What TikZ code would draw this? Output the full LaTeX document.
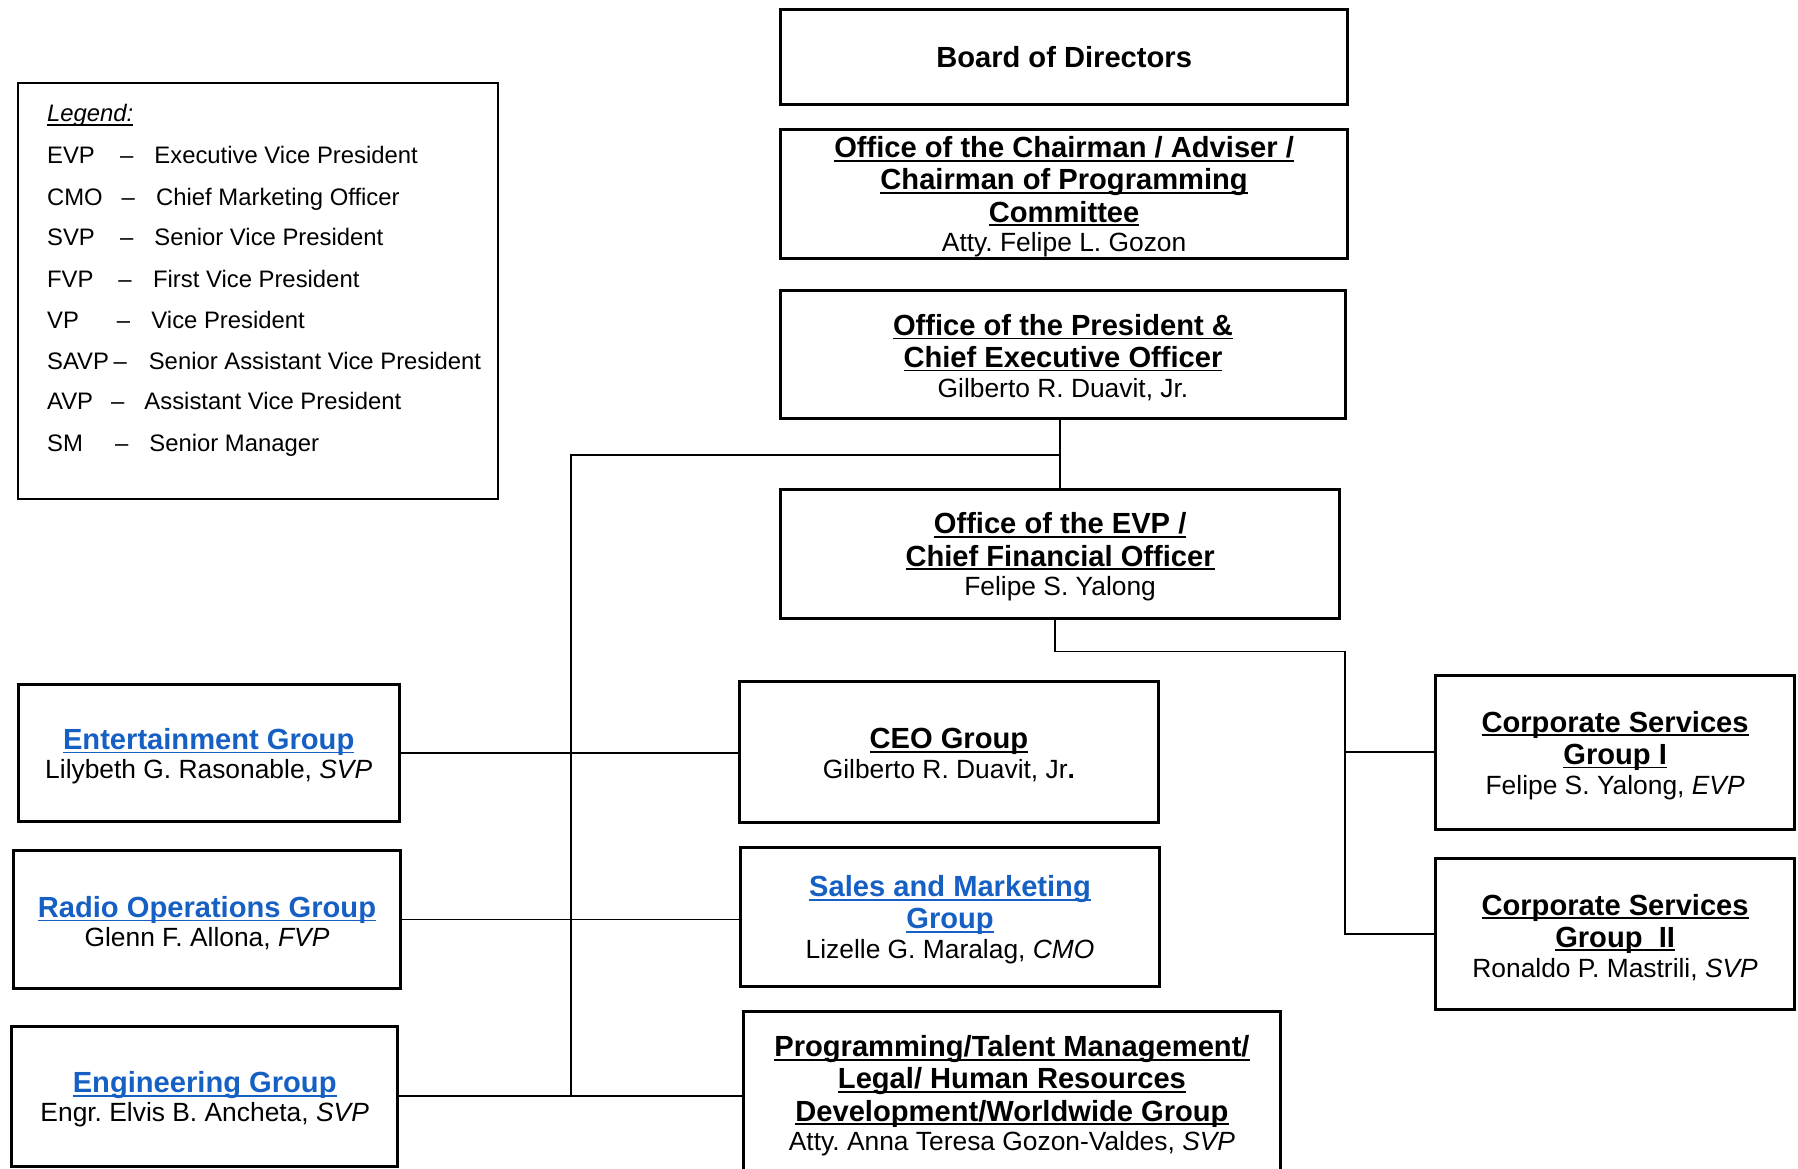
\documentclass[tikz,border=0pt]{standalone}
\usepackage{fontspec}
\setmainfont{Liberation Sans}
\frenchspacing
\definecolor{linkblue}{HTML}{1660C4}
\newsavebox\ulbox
\newcommand\ulx[1]{\sbox\ulbox{#1}\rlap{\rule[-1.7pt]{\wd\ulbox}{0.75pt}}\usebox\ulbox}
\newcommand\tfont{\fontsize{12.7}{14}\selectfont\bfseries\frenchspacing}
\newcommand\tfontb{\fontsize{12.7}{13}\selectfont\bfseries\frenchspacing}
\newcommand\nfont{\fontsize{11.5}{14}\selectfont\mdseries}
\newcommand\st{\rule{0pt}{12pt}}
\begin{document}
\begin{tikzpicture}[x=0.5pt,y=-0.5pt,
  box/.style={draw, line width=1.3pt, align=center, inner sep=0pt, font=\tfont},
  boxb/.style={box, font=\tfontb},
  conn/.style={line width=0.7pt},
  lg/.style={inner sep=0pt, anchor=base west, font=\fontsize{10.4}{12}\selectfont},
  lgd/.style={inner sep=0pt, anchor=base, font=\fontsize{10.4}{12}\selectfont}]
\useasboundingbox (0,0) rectangle (1568,1019);

% legend
\node[draw, line width=0.9pt, minimum width=209pt, minimum height=181.5pt, inner sep=0pt] (legend) at (225,253.5) {};
\node[lg] (lgtitle) at (40.7,106.1) {\itshape\ulx{Legend:}};
\foreach \a/\dx/\tx/\y/\d [count=\i] in {
  EVP/110.5/134.3/143.0/Executive Vice President,
  CMO/111.9/135.8/178.8/Chief Marketing Officer,
  SVP/110.5/134.3/214.5/Senior Vice President,
  FVP/109/133.1/250.6/First Vice President,
  VP/107.8/131.7/286.3/Vice President,
  SAVP/104.9/129.4/321.8/Senior Assistant Vice President,
  AVP/102.8/125.6/357.5/Assistant Vice President,
  SM/106.1/129.9/393.3/Senior Manager}{
  \node[lg] (la\i) at (40.7,\y) {\a};
  \node[lgd] (ld\i) at (\dx,\y) {–};
  \node[lg] (lt\i) at (\tx,\y) {\d};
}

% top chain
\node[box, minimum width=247pt, minimum height=41.5pt] (board) at (928,49.5) {Board of Directors};
\node[box, minimum width=247pt, minimum height=56pt] (chair) at (928,169)
  {\st\ulx{Office of the Chairman / Adviser /}\\\ulx{Chairman of Programming}\\\ulx{Committee}\\[-1pt]{\nfont Atty. Felipe L. Gozon}};
\node[box, minimum width=246pt, minimum height=56pt] (pres) at (927,309)
  {\st\ulx{Office of the President \&}\\\ulx{Chief Executive Officer}\\[-1pt]{\nfont Gilberto R. Duavit, Jr.}};
\node[box, minimum width=243.5pt, minimum height=56pt] (evp) at (924.5,483)
  {\st\ulx{Office of the EVP /}\\\ulx{Chief Financial Officer}\\[-1pt]{\nfont Felipe S. Yalong}};

% left groups
\node[boxb, minimum width=166pt, minimum height=59.5pt] (ent) at (182,656.5)
  {\st{\color{linkblue}\ulx{Entertainment Group}}\\[-0.5pt]{\nfont Lilybeth G. Rasonable, \textit{SVP}}};
\node[boxb, minimum width=168.5pt, minimum height=60pt] (radio) at (180.5,802)
  {\st{\color{linkblue}\ulx{Radio Operations Group}}\\[-0.5pt]{\nfont Glenn F. Allona, \textit{FVP}}};
\node[boxb, minimum width=168.5pt, minimum height=61pt] (eng) at (178.5,956)
  {\st{\color{linkblue}\ulx{Engineering Group}}\\[-0.5pt]{\nfont Engr. Elvis B. Ancheta, \textit{SVP}}};

% middle groups
\node[box, minimum width=182.5pt, minimum height=61.5pt] (ceo) at (827.5,655.5)
  {\st\ulx{CEO Group}\\[-1pt]{\nfont Gilberto R. Duavit, Jr\textbf{.}}};
\node[box, minimum width=182.5pt, minimum height=60.5pt] (sales) at (828.5,799.5)
  {\st{\color{linkblue}\ulx{Sales and Marketing}}\\{\color{linkblue}\ulx{Group}}\\[-1pt]{\nfont Lizelle G. Maralag, \textit{CMO}}};
\node[box, minimum width=234.5pt, minimum height=71pt] (prog) at (882.5,953)
  {\st\ulx{Programming/Talent Management/}\\\ulx{Legal/ Human Resources}\\\ulx{Development/Worldwide Group}\\[-1pt]{\nfont Atty. Anna Teresa Gozon-Valdes, \textit{SVP}}};

% right groups
\node[box, minimum width=156.5pt, minimum height=67pt] (cs1) at (1408.5,656)
  {\st\ulx{Corporate Services}\\\ulx{Group I}\\[-1pt]{\nfont Felipe S. Yalong, \textit{EVP}}};
\node[box, minimum width=156.5pt, minimum height=65.5pt] (cs2) at (1408.5,814.5)
  {\st\ulx{Corporate Services}\\\ulx{Group\ \ II}\\[-1pt]{\nfont Ronaldo P. Mastrili, \textit{SVP}}};

% connectors
\draw[conn] (evp.north |- pres.south) -- (evp.north);
\coordinate (ttop) at (498,397);
\draw[conn] (ttop -| evp.north) -- (ttop) -- (ttop |- eng.east);
\draw[conn] (ent.east) -- (ent.east -| ceo.west);
\draw[conn] (radio.east) -- (radio.east -| sales.west);
\draw[conn] (eng.east) -- (eng.east -| prog.west);
\coordinate (rtop) at (1173,568);
\draw[conn] ([xshift=-2.25pt]evp.south) |- (rtop) -- (rtop |- cs2.west) -- (cs2.west);
\draw[conn] (rtop |- cs1.west) -- (cs1.west);
\end{tikzpicture}
\end{document}
